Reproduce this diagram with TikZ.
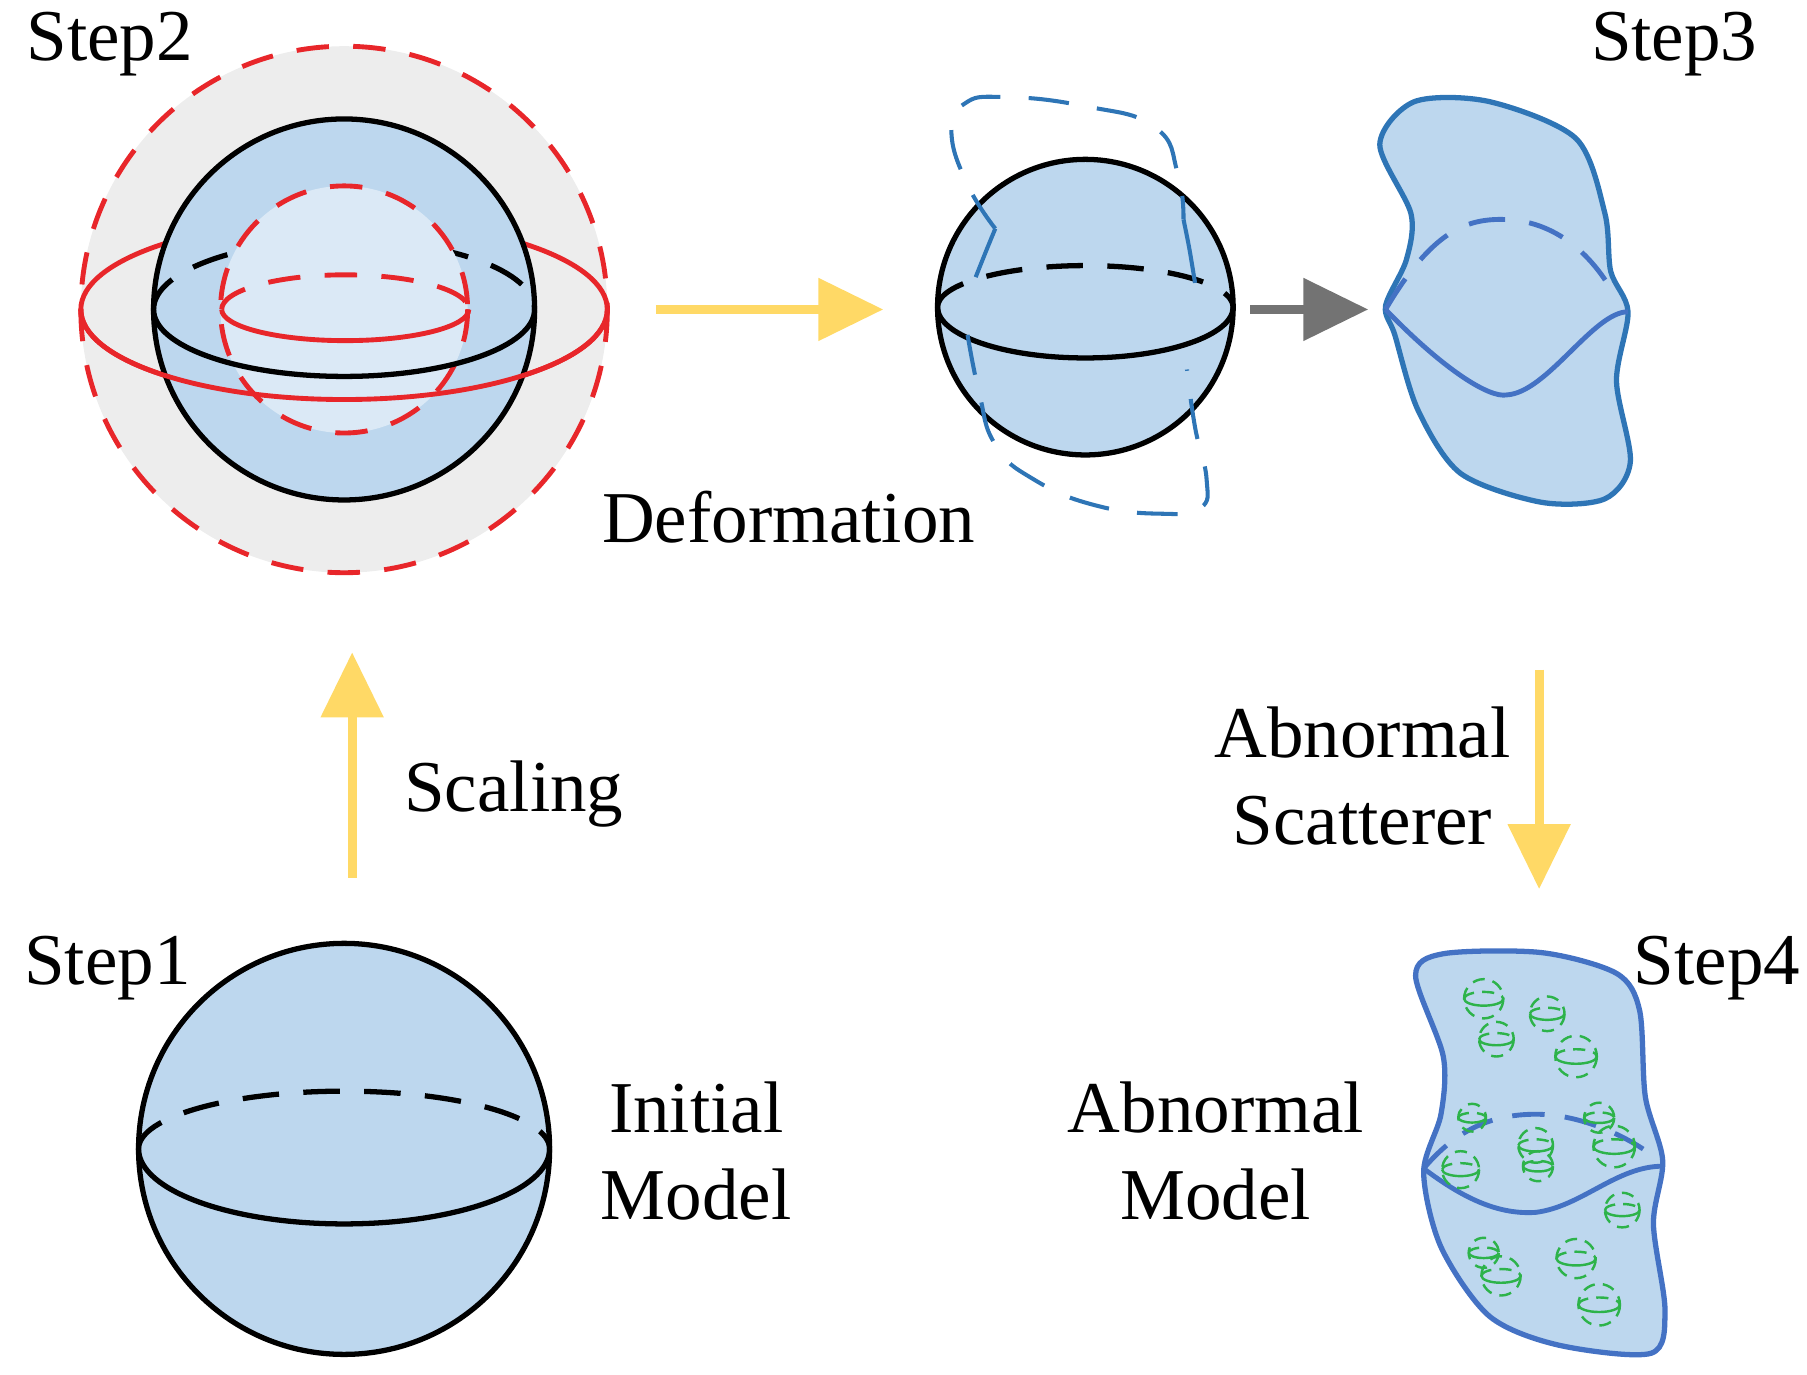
\documentclass[tikz,border=0pt]{standalone}
\usepackage{fontspec}
\setmainfont{Liberation Serif}
\usetikzlibrary{arrows.meta}
\begin{document}
\begin{tikzpicture}[x=0.1mm,y=-0.1mm,
  sph/.style={fill=sfill,draw=black,line width=1.3pt},
  blk/.style={draw=black,line width=1.3pt},
  bdash/.style={blk,dash pattern=on 9pt off 6pt},
  rd/.style={draw=rred,line width=1.2pt},
  rdash/.style={rd,dash pattern=on 8pt off 6pt},
  yarr/.style={draw=yel,line width=2.2pt,-{Triangle[length=16pt,width=15pt]}},
  lbl/.style={font=\fontsize{18}{21.5}\selectfont,align=center},
  blob/.style={fill=sfill,draw=bblue,line width=1.3pt},
  grn/.style={draw=ggreen,line width=0.6pt,dash pattern=on 3pt off 2pt}]
\definecolor{sfill}{HTML}{BDD7EE}
\definecolor{rred}{HTML}{E8262A}
\definecolor{yel}{HTML}{FFD966}
\definecolor{bblue}{HTML}{2E75B6}
\definecolor{iblue}{HTML}{4472C4}
\definecolor{ggreen}{HTML}{2DB34A}
\useasboundingbox (0,0) rectangle (1565,1190);
% Step1
\node[lbl] (s1) at (93,838) {Step1};
\path[sph] (298,995) circle (178);
\draw[bdash] (120,995) arc (180:360:178 and 50);
\draw[blk] (120,995) arc (180:0:178 and 65);
\node[lbl] (im) at (603,997) {Initial\\Model};
% Step2
\node[lbl] (s2) at (95,38) {Step2};
\fill[black!7] (298,268) circle (228);
\draw[rd] (298,268) ellipse (228 and 78);
\path[sph] (298,268) circle (165);
\draw[bdash] (133,268) arc (180:360:165 and 60);
\fill[white!45!sfill] (298,268) circle (107);
\draw[rdash] (298,268) circle (107);
\draw[rdash] (192,268) arc (180:360:107 and 30);
\draw[rd] (192,268) arc (180:0:107 and 27);
\draw[blk] (133,268) arc (180:0:165 and 58);
\draw[rd] (70,268) arc (180:0:228 and 78);
\draw[rdash] (298,268) circle (228);
\coordinate (a1s) at (305,760); \coordinate (a1e) at (305,565);
\draw[yarr] (a1s) -- (a1e);
\node[lbl] (sc) at (445,688) {Scaling};
\coordinate (a2s) at (568,268); \coordinate (a2e) at (765,268);
\draw[yarr] (a2s) -- (a2e);
\node[lbl] (df) at (683,448) {Deformation};
% middle sphere
\path[sph] (940,266) circle (128);
\draw[bdash] (812,266) arc (180:360:128 and 36);
\draw[blk] (812,266) arc (180:0:128 and 44);
\draw[draw=bblue,line width=1pt,dash pattern=on 10pt off 7pt] plot[smooth,tension=0.8] coordinates {(862,198) (838,160) (824,115) (835,90) (870,84) (940,92) (1000,110) (1020,150) (1025,190)};
\draw[draw=bblue,line width=1pt] plot[smooth] coordinates {(862,198) (855,215) (845,240)} plot[smooth] coordinates {(1025,190) (1030,215) (1035,245)};
\draw[draw=bblue,line width=1pt,dash pattern=on 10pt off 7pt] plot[smooth,tension=0.8] coordinates {(838,290) (848,340) (862,385) (895,415) (950,438) (1010,445) (1040,440) (1045,415) (1035,370) (1028,320)};
\coordinate (a3s) at (1083,268); \coordinate (a3e) at (1185,268);
\draw[draw=black!55,line width=2.2pt,-{Triangle[length=16pt,width=15pt]}] (a3s) -- (a3e);
% Step3
\node[lbl] (s3) at (1450,38) {Step3};
\path[blob] plot[smooth cycle] coordinates {(1195,125) (1225,88) (1290,88) (1365,120) (1390,185) (1395,235) (1410,270) (1400,330) (1412,400) (1390,432) (1335,435) (1265,410) (1228,355) (1208,290) (1200,265) (1218,225) (1222,185)};
\draw[draw=iblue,line width=1.2pt] (1200,268) .. controls (1250,320) and (1290,345) .. (1305,342) .. controls (1340,340) and (1380,270) .. (1410,270);
\draw[draw=iblue,line width=1.2pt,dash pattern=on 9pt off 6pt] (1200,268) .. controls (1240,200) and (1270,190) .. (1300,190) .. controls (1350,190) and (1380,225) .. (1395,250);
\coordinate (a4s) at (1333,580); \coordinate (a4e) at (1333,770);
\draw[yarr] (a4s) -- (a4e);
\node[lbl] (as) at (1180,672) {Abnormal\\Scatterer};
% Step4
\node[lbl] (s4) at (1487,838) {Step4};
\node[lbl] (am) at (1053,997) {Abnormal\\Model};
\path[blob,draw=iblue] plot[smooth cycle] coordinates {(1226,845) (1250,826) (1335,825) (1400,843) (1420,875) (1425,950) (1440,1005) (1432,1060) (1442,1135) (1430,1172) (1350,1165) (1290,1140) (1248,1080) (1233,1015) (1248,965) (1250,915)};
\draw[draw=iblue,line width=1.2pt] (1233,1012) .. controls (1270,1040) and (1300,1052) .. (1330,1050) .. controls (1370,1045) and (1400,1010) .. (1440,1010);
\draw[draw=iblue,line width=1.2pt,dash pattern=on 8pt off 5pt] (1233,1012) .. controls (1260,980) and (1290,965) .. (1330,965) .. controls (1370,965) and (1410,985) .. (1430,1000);
\foreach \x/\y/\r in {1285/865/17,1340/878/15,1296/900/15,1365/915/18,1275/968/12,1385/968/13,1330/992/15,1398/993/18,1265/1013/16,1332/1010/13,1405/1048/15,1285/1085/13,1365/1090/17,1300/1105/17,1385/1130/18}{
  \pgfmathsetmacro\ry{0.35*\r}
  \draw[grn] (\x,\y) circle (\r);
  \draw[ggreen,line width=0.6pt] (\x-\r,\y) arc [start angle=180,end angle=0,x radius=\r,y radius=\ry];
  \draw[grn] (\x-\r,\y) arc [start angle=180,end angle=360,x radius=\r,y radius=\ry];
}
\end{tikzpicture}
\end{document}
